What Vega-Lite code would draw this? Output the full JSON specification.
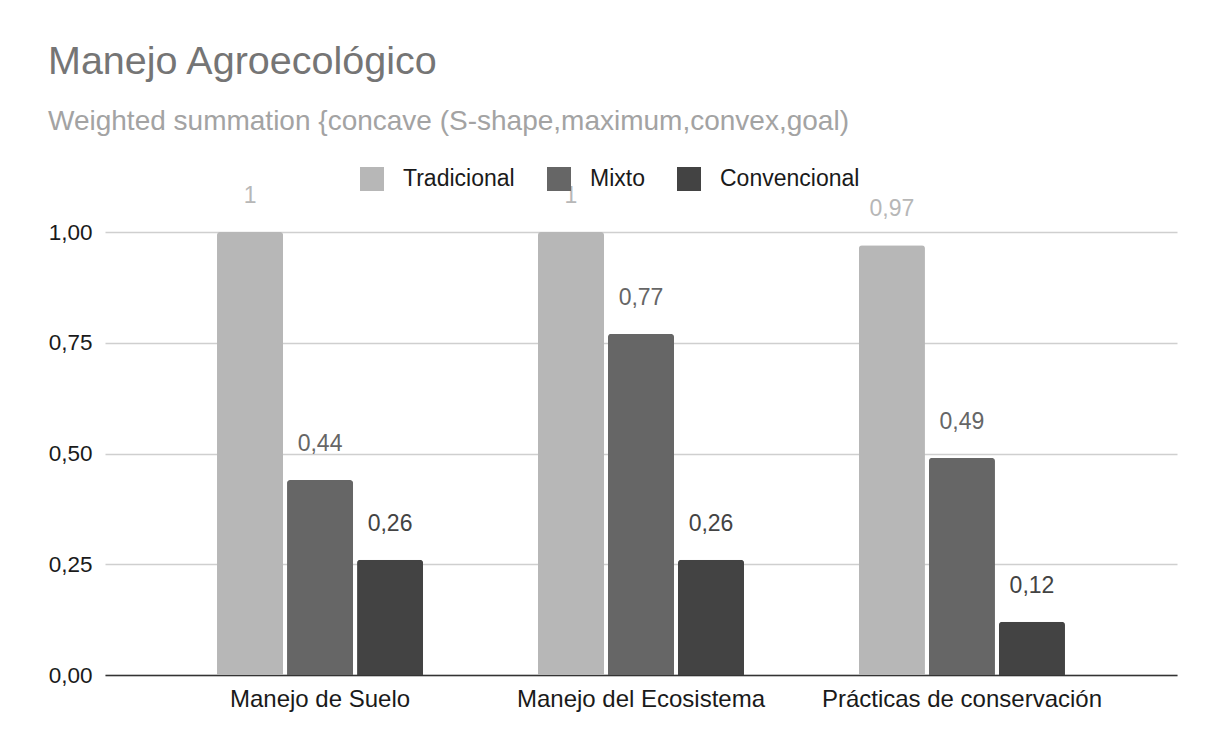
{
  "$schema": "https://vega.github.io/schema/vega-lite/v6.json",
  "autosize": "none",
  "width": 1072,
  "height": 443,
  "padding": {"left": 105, "top": 232, "right": 33, "bottom": 74},
  "background": "white",
  "config": {
    "locale": {"number": {"decimal": ",", "thousands": ".", "grouping": [3], "currency": ["", " €"]}},
    "font": "Liberation Sans",
    "view": {"stroke": null}
  },
  "title": {
    "text": "Manejo Agroecológico",
    "subtitle": "Weighted summation {concave (S-shape,maximum,convex,goal)",
    "anchor": "start",
    "frame": "group",
    "dx": -57,
    "offset": 30,
    "fontSize": 39.5,
    "fontWeight": "normal",
    "color": "#757575",
    "subtitleFontSize": 28,
    "subtitleColor": "#a3a3a3",
    "subtitlePadding": 26
  },
  "data": {
    "values": [
      {"categoria": "Manejo de Suelo", "serie": "Tradicional", "valor": 1},
      {"categoria": "Manejo de Suelo", "serie": "Mixto", "valor": 0.44},
      {"categoria": "Manejo de Suelo", "serie": "Convencional", "valor": 0.26},
      {"categoria": "Manejo del Ecosistema", "serie": "Tradicional", "valor": 1},
      {"categoria": "Manejo del Ecosistema", "serie": "Mixto", "valor": 0.77},
      {"categoria": "Manejo del Ecosistema", "serie": "Convencional", "valor": 0.26},
      {"categoria": "Prácticas de conservación", "serie": "Tradicional", "valor": 0.97},
      {"categoria": "Prácticas de conservación", "serie": "Mixto", "valor": 0.49},
      {"categoria": "Prácticas de conservación", "serie": "Convencional", "valor": 0.12}
    ]
  },
  "encoding": {
    "x": {
      "field": "categoria",
      "type": "nominal",
      "sort": null,
      "scale": {"paddingInner": 0.358, "paddingOuter": 0.349},
      "axis": {
        "title": null,
        "labelAngle": 0,
        "labelFontSize": 24,
        "labelColor": "#1a1a1a",
        "labelPadding": 12,
        "labelLimit": 0,
        "ticks": false,
        "domainColor": "#333333",
        "domainWidth": 1.7,
        "grid": false
      }
    },
    "xOffset": {
      "field": "serie",
      "type": "nominal",
      "sort": ["Tradicional", "Mixto", "Convencional"],
      "scale": {"paddingInner": 0.057, "paddingOuter": 0}
    },
    "y": {
      "field": "valor",
      "type": "quantitative",
      "scale": {"domain": [0, 1], "nice": false},
      "axis": {
        "title": null,
        "values": [0, 0.25, 0.5, 0.75, 1],
        "format": ".2f",
        "labelFontSize": 22.5,
        "labelColor": "#1a1a1a",
        "labelPadding": 13,
        "ticks": false,
        "domain": false,
        "gridColor": "#cfcfcf",
        "gridWidth": 1.5
      }
    }
  },
  "layer": [
    {
      "mark": {"type": "bar", "cornerRadiusEnd": 3},
      "encoding": {
        "color": {
          "field": "serie",
          "type": "nominal",
          "sort": ["Tradicional", "Mixto", "Convencional"],
          "scale": {"domain": ["Tradicional", "Mixto", "Convencional"], "range": ["#b7b7b7", "#666666", "#434343"]},
          "legend": {
            "title": null,
            "orient": "none",
            "direction": "horizontal",
            "legendX": 255,
            "legendY": -65,
            "symbolType": "square",
            "symbolSize": 576,
            "symbolStrokeWidth": 0,
            "labelFontSize": 23,
            "labelColor": "#1a1a1a",
            "labelOffset": 19,
            "columnPadding": 32
          }
        }
      }
    },
    {
      "mark": {"type": "text", "baseline": "alphabetic", "dy": -29, "fontSize": 23},
      "encoding": {
        "text": {"field": "valor", "type": "quantitative", "format": ".2~f"},
        "color": {
          "field": "serie",
          "type": "nominal",
          "scale": {"domain": ["Tradicional", "Mixto", "Convencional"], "range": ["#b7b7b7", "#666666", "#434343"]},
          "legend": null
        }
      }
    }
  ]
}
